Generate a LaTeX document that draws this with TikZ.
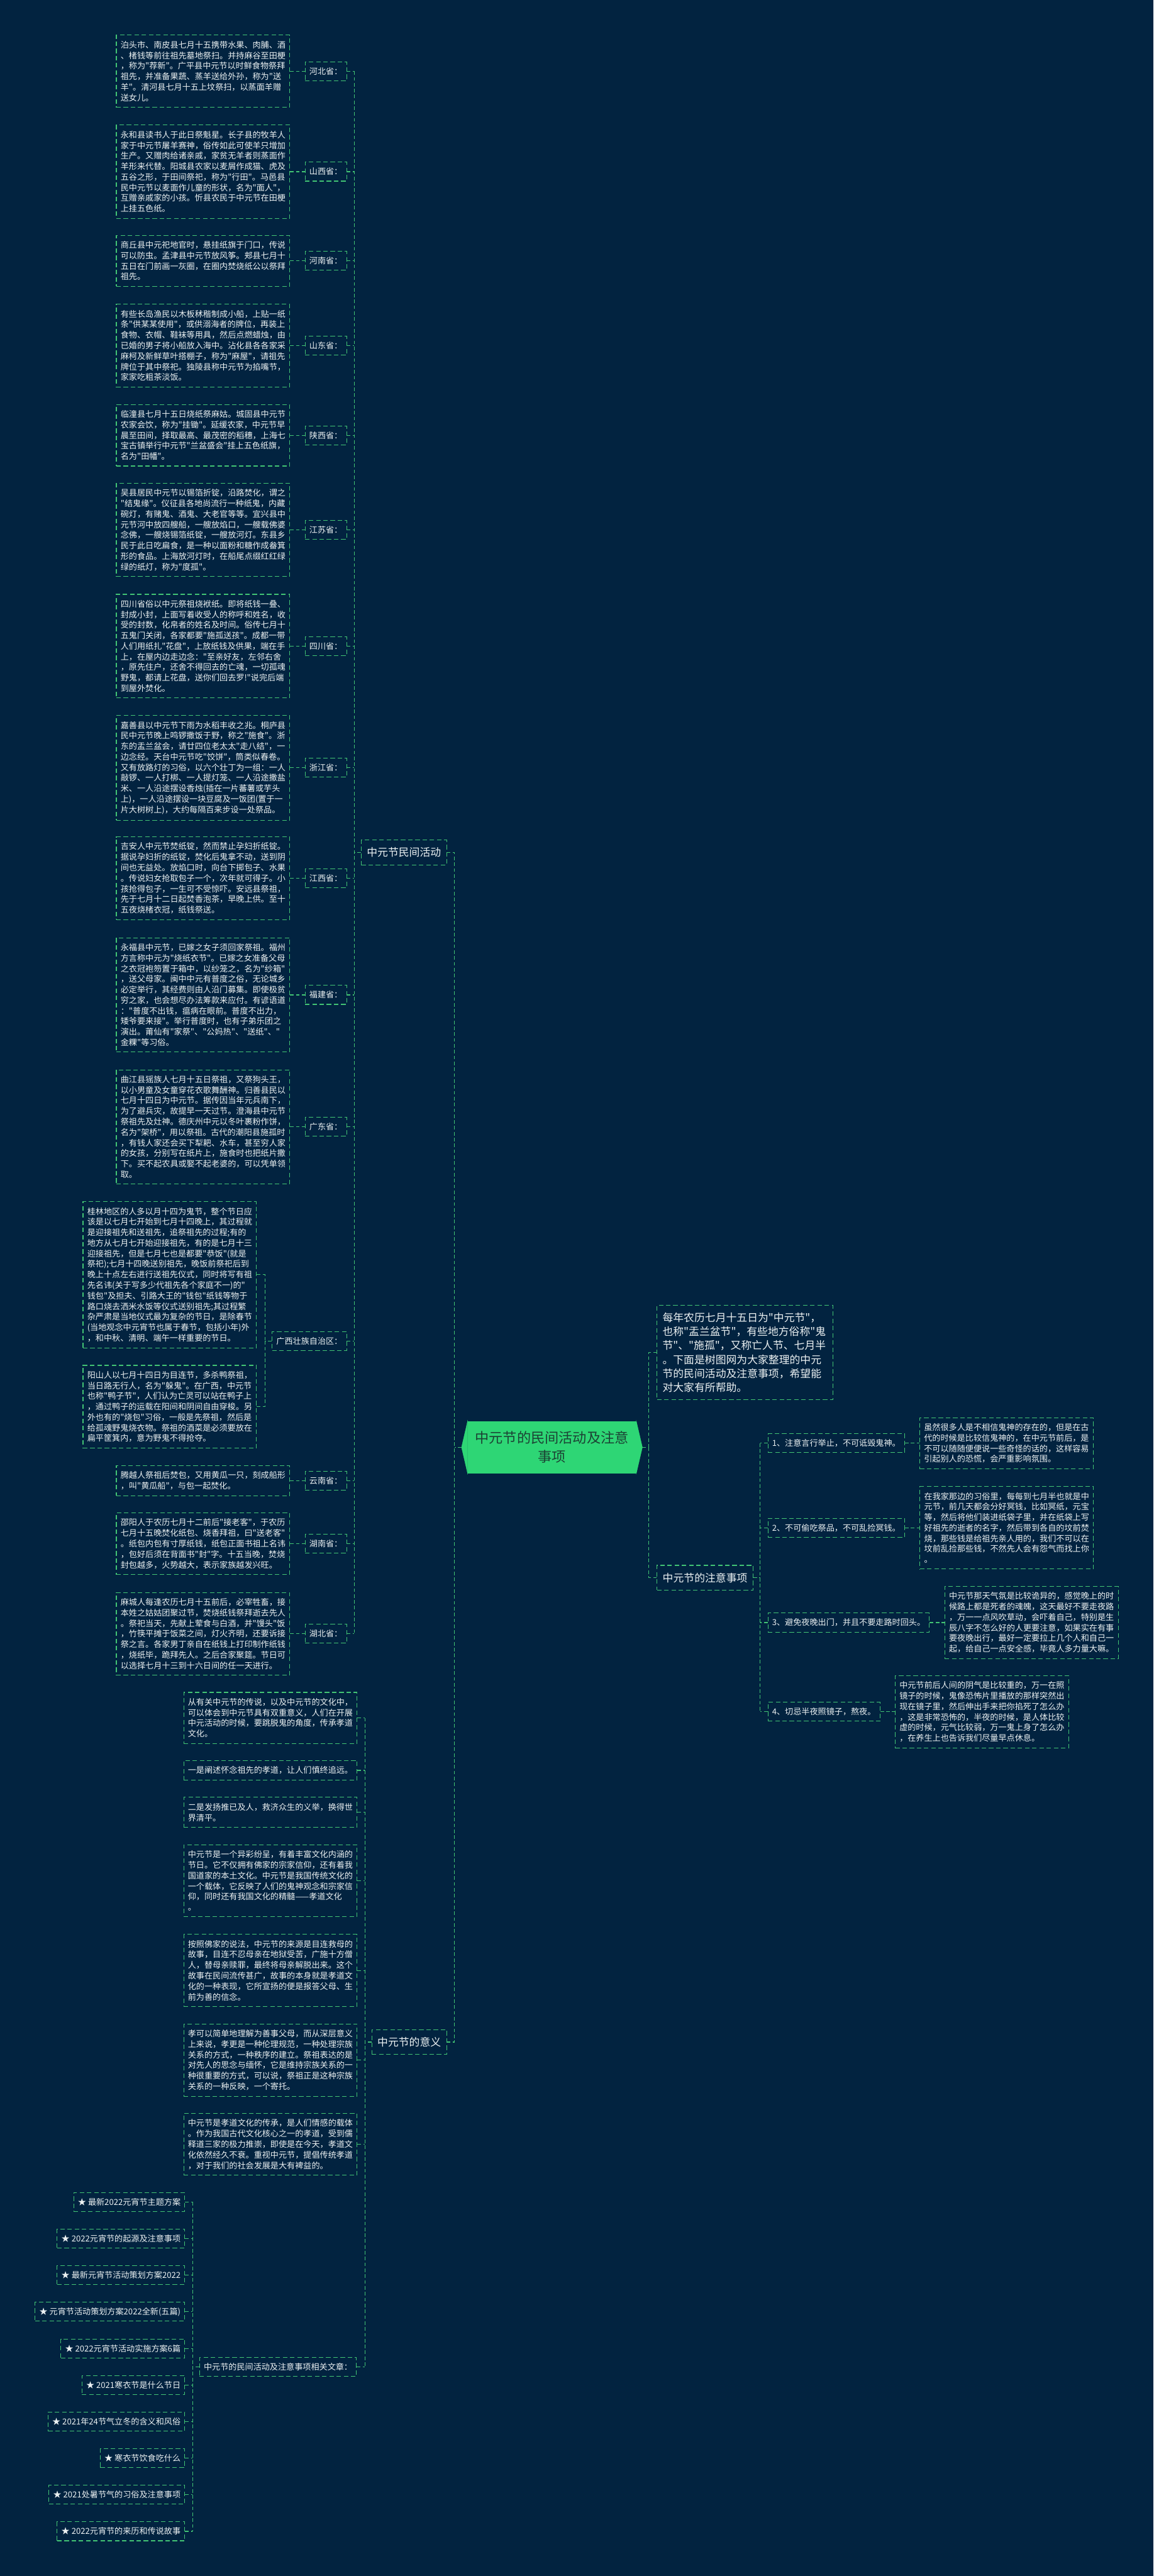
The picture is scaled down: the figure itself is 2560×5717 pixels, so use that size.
\documentclass[tikz,border=0pt]{standalone}
\usepackage{fontspec}
\newfontfamily\cjk{Noto Sans CJK SC}
\definecolor{mmbg}{RGB}{2,35,64}
\definecolor{mmgreen}{RGB}{66,196,116}
\definecolor{mmlime}{RGB}{46,214,117}
\definecolor{mmtext}{RGB}{236,241,242}
\definecolor{mmdark}{RGB}{28,66,52}
\newcommand\mmSmall{\cjk\fontsize{18.3pt}{23.4pt}\selectfont}
\newcommand\mmMid{\cjk\fontsize{23.5pt}{31pt}\selectfont}
\newcommand\mmRoot{\cjk\fontsize{31pt}{42pt}\selectfont}
\usepackage{tikz}
\usetikzlibrary{calc}

\begin{document}
\begin{tikzpicture}[x=1pt, y=-1pt,
  link/.style={draw=mmgreen, line width=1.5pt, dash pattern=on 8pt off 5pt},
  frame/.style={draw=mmgreen, line width=1.5pt, dash pattern=on 10pt off 6pt, text=mmtext},
  detail/.style={frame, font=\mmSmall, align=left, text width=366pt, inner xsep=9.5pt, inner ysep=13pt},
  leaf/.style={frame, font=\mmSmall, inner xsep=9.5pt, inner ysep=0pt, minimum height=42pt},
  topic/.style={frame, font=\mmMid, inner xsep=12.5pt, inner ysep=0pt, minimum height=55pt}]

  %% Canvas
  \fill[mmbg] (0,0) rectangle (2560,5717);
  \useasboundingbox (0,0) rectangle (2560,5717);

  %% Root
  \node[fill=mmlime, text=mmdark, font=\mmRoot, align=center, inner sep=0pt, minimum width=374pt, minimum height=116pt] (root) at (1225,3212) {中元节的民间活动及注意\\事项};
  \filldraw[mmlime, line width=0.6pt] (root.north west) -- ($(root.west)+(-13.5,0)$) coordinate (rootW) -- (root.south west) -- cycle;
  \filldraw[mmlime, line width=0.6pt] (root.north east) -- ($(root.east)+(13.5,0)$) coordinate (rootE) -- (root.south east) -- cycle;

  %% Main branches
  \node[topic, anchor=east] (folk) at (992,1892) {中元节民间活动};
  \node[topic, anchor=east] (meaning) at (992,4532) {中元节的意义};
  \node[frame, font=\mmMid, align=left, text width=366pt, inner xsep=12.25pt, inner ysep=16pt, anchor=west] (intro) at (1457.5,3001.5) {每年农历七月十五日为"中元节"，\\也称"盂兰盆节"，有些地方俗称"鬼\\节"、"施孤"，又称亡人节、七月半\\。下面是树图网为大家整理的中元\\节的民间活动及注意事项，希望能\\对大家有所帮助。};
  \node[topic, anchor=west] (caution) at (1457.5,3501.5) {中元节的注意事项};
  \coordinate (lj) at (1009,3212);
  \coordinate (rj) at (1440,3212);
  \draw[link] (rootW) -- (lj);
  \draw[link] (folk.east) -| (lj);
  \draw[link] (meaning.east) -| (lj);
  \draw[link] (rootE) -- (rj);
  \draw[link] (intro.west) -| (rj);
  \draw[link] (caution.west) -| (rj);

  %% Folk activities -- provinces
  \coordinate (fj) at (786,1892);
  \draw[link] (folk.west) -- (fj);

  %% Hebei
  \node[leaf, anchor=east] (hebei) at (770,158) {河北省：};
  \node[detail, anchor=east] (hebeiD) at (644,158) {泊头市、南皮县七月十五携带水果、肉脯、酒\\、楮钱等前往祖先墓地祭扫。并持麻谷至田梗\\，称为"荐新"。广平县中元节以时鲜食物祭拜\\祖先，并准备果蔬、蒸羊送给外孙，称为"送\\羊"。清河县七月十五上坟祭扫，以蒸面羊赠\\送女儿。};

  %% Shanxi
  \node[leaf, anchor=east] (shanxi) at (770,381) {山西省：};
  \node[detail, anchor=east] (shanxiD) at (644,381) {永和县读书人于此日祭魁星。长子县的牧羊人\\家于中元节屠羊赛神，俗传如此可使羊只增加\\生产。又赠肉给诸亲戚，家贫无羊者则蒸面作\\羊形来代替。阳城县农家以麦屑作成猫、虎及\\五谷之形，于田间祭祀，称为"行田"。马邑县\\民中元节以麦面作儿童的形状，名为"面人"，\\互赠亲戚家的小孩。忻县农民于中元节在田梗\\上挂五色纸。};

  %% Henan
  \node[leaf, anchor=east] (henan) at (770,579) {河南省：};
  \node[detail, anchor=east] (henanD) at (644,579) {商丘县中元祀地官时，悬挂纸旗于门口，传说\\可以防虫。孟津县中元节放风筝。郏县七月十\\五日在门前画一灰圈，在圈内焚烧纸公以祭拜\\祖先。};

  %% Shandong
  \node[leaf, anchor=east] (shandong) at (770,767) {山东省：};
  \node[detail, anchor=east] (shandongD) at (644,767) {有些长岛渔民以木板秫稭制成小船，上贴一纸\\条"供某某使用"，或供溺海者的牌位，再装上\\食物、衣帽、鞋袜等用具，然后点燃蜡烛，由\\已婚的男子将小船放入海中。沾化县各各家采\\麻柯及新鲜草叶搭棚子，称为"麻屋"，请祖先\\牌位于其中祭祀。独陵县称中元节为掐嘴节，\\家家吃粗茶淡饭。};

  %% Shaanxi
  \node[leaf, anchor=east] (shaanxi) at (770,966) {陕西省：};
  \node[detail, anchor=east] (shaanxiD) at (644,966) {临潼县七月十五日烧纸祭麻姑。城固县中元节\\农家会饮，称为"挂锄"。延缓农家，中元节早\\晨至田间，择取最高、最茂密的稻穗，上海七\\宝古镇举行中元节"兰盆盛会"挂上五色纸旗，\\名为"田幡"。};

  %% Jiangsu
  \node[leaf, anchor=east] (jiangsu) at (770,1176) {江苏省：};
  \node[detail, anchor=east] (jiangsuD) at (644,1176) {吴县居民中元节以锡箔折锭，沿路焚化，谓之\\"结鬼缘"。仪征县各地尚流行一种纸鬼，内藏\\碗灯，有赌鬼、酒鬼、大老官等等。宜兴县中\\元节河中放四艘船，一艘放焰口，一艘载佛婆\\念佛，一艘烧锡箔纸锭，一艘放河灯。东县乡\\民于此日吃扁食，是一种以面粉和糖作成畚箕\\形的食品。上海放河灯时，在船尾点缀红红绿\\绿的纸灯，称为"度孤"。};

  %% Sichuan
  \node[leaf, anchor=east] (sichuan) at (770,1434) {四川省：};
  \node[detail, anchor=east] (sichuanD) at (644,1434) {四川省俗以中元祭祖烧袱纸。即将纸钱一叠、\\封成小封，上面写着收受人的称呼和姓名，收\\受的封数，化帛者的姓名及时间。俗传七月十\\五鬼门关闭，各家都要"施孤送孩"。成都一带\\人们用纸扎"花盘"，上放纸钱及供果，端在手\\上，在屋内边走边念："至亲好友，左邻右舍\\，原先住户，还舍不得回去的亡魂，一切孤魂\\野鬼，都请上花盘，送你们回去罗!"说完后端\\到屋外焚化。};

  %% Zhejiang
  \node[leaf, anchor=east] (zhejiang) at (770,1704) {浙江省：};
  \node[detail, anchor=east] (zhejiangD) at (644,1704) {嘉善县以中元节下雨为水稻丰收之兆。桐庐县\\民中元节晚上鸣锣撒饭于野，称之"施食"。浙\\东的盂兰盆会，请廿四位老太太"走八结"，一\\边念经。天台中元节吃"饺饼"，筒类似春卷。\\又有放路灯的习俗，以六个壮丁为一组：一人\\敲锣、一人打梆、一人提灯笼、一人沿途撒盐\\米、一人沿途摆设香烛(插在一片蕃薯或芋头\\上)，一人沿途摆设一块豆腐及一饭团(置于一\\片大树树上)，大约每隔百来步设一处祭品。};

  %% Jiangxi
  \node[leaf, anchor=east] (jiangxi) at (770,1949) {江西省：};
  \node[detail, anchor=east] (jiangxiD) at (644,1949) {吉安人中元节焚纸锭，然而禁止孕妇折纸锭。\\据说孕妇折的纸锭，焚化后鬼拿不动，送到阴\\间也无益处。放焰口时，向台下掷包子、水果\\。传说妇女抢取包子一个，次年就可得子。小\\孩抢得包子，一生可不受惊吓。安远县祭祖，\\先于七月十二日起焚香泡茶，早晚上供。至十\\五夜烧楮衣冠，纸钱祭送。};

  %% Fujian
  \node[leaf, anchor=east] (fujian) at (770,2208) {福建省：};
  \node[detail, anchor=east] (fujianD) at (644,2208) {永福县中元节，已嫁之女子须回家祭祖。福州\\方言称中元为"烧纸衣节"。已嫁之女准备父母\\之衣冠袍笏置于箱中，以纱笼之，名为"纱箱"\\，送父母家。闽中中元有普度之俗，无论城乡\\必定举行，其经费则由人沿门募集。即使极贫\\穷之家，也会想尽办法筹款来应付。有谚语道\\："普度不出钱，瘟病在眼前。普度不出力，\\矮爷要来接"。举行普度时，也有子弟乐团之\\演出。莆仙有"家祭"、"公妈热"、"送纸"、"\\金粿"等习俗。};

  %% Guangdong
  \node[leaf, anchor=east] (guangdong) at (770,2501) {广东省：};
  \node[detail, anchor=east] (guangdongD) at (644,2501) {曲江县猺族人七月十五日祭祖，又祭狗头王，\\以小男童及女童穿花衣歌舞酬神。归善县民以\\七月十四日为中元节。据传因当年元兵南下，\\为了避兵灾，故提早一天过节。澄海县中元节\\祭祖先及灶神。德庆州中元以冬叶裹粉作饼，\\名为"架桥"，用以祭祖。古代的潮阳县施孤时\\，有钱人家还会买下犁耙、水车，甚至穷人家\\的女孩，分别写在纸片上，施食时也把纸片撒\\下。买不起农具或娶不起老婆的，可以凭单领\\取。};

  %% Guangxi
  \node[leaf, anchor=east] (guangxi) at (770,2976) {广西壮族自治区：};
  \coordinate (gxj) at (588,2976);
  \node[detail, anchor=east] (guangxiA) at (570,2829) {桂林地区的人多以月十四为鬼节，整个节日应\\该是以七月七开始到七月十四晚上，其过程就\\是迎接祖先和送祖先，追祭祖先的过程;有的\\地方从七月七开始迎接祖先，有的是七月十三\\迎接祖先，但是七月七也是都要"恭饭"(就是\\祭祀);七月十四晚送别祖先，晚饭前祭祀后到\\晚上十点左右进行送祖先仪式，同时将写有祖\\先名讳(关于写多少代祖先各个家庭不一)的"\\钱包"及担夫、引路大王的"钱包"纸钱等物于\\路口烧去洒米水饭等仪式送别祖先;其过程繁\\杂严肃是当地仪式最为复杂的节日，是除春节\\(当地观念中元宵节也属于春节，包括小年)外\\，和中秋、清明、端午一样重要的节日。};
  \node[detail, anchor=east] (guangxiB) at (570,3122) {阳山人以七月十四日为目连节，多杀鸭祭祖，\\当日路无行人，名为"躲鬼"。在广西，中元节\\也称"鸭子节"，人们认为亡灵可以站在鸭子上\\，通过鸭子的运载在阳间和阴间自由穿梭。另\\外也有的"烧包"习俗，一般是先祭祖，然后是\\给孤魂野鬼烧衣物。祭祖的酒菜是必须要放在\\扁平筐箕内，意为野鬼不得抢夺。};
  \draw[link] (guangxi.west) -- (gxj);
  \draw[link] (guangxiA.east) -| (gxj);
  \draw[link] (guangxiB.east) -| (gxj);

  %% Yunnan
  \node[leaf, anchor=east] (yunnan) at (770,3286) {云南省：};
  \node[detail, anchor=east] (yunnanD) at (644,3286) {腾越人祭祖后焚包，又用黄瓜一只，刻成船形\\，叫"黄瓜船"，与包一起焚化。};

  %% Hunan
  \node[leaf, anchor=east] (hunan) at (770,3426) {湖南省：};
  \node[detail, anchor=east] (hunanD) at (644,3426) {邵阳人于农历七月十二前后"接老客"，于农历\\七月十五晚焚化纸包、烧香拜祖，曰"送老客"\\。纸包内包有寸厚纸钱，纸包正面书祖上名讳\\，包好后须在背面书"封"字。十五当晚，焚烧\\封包越多，火势越大，表示家族越发兴旺。};

  %% Hubei
  \node[leaf, anchor=east] (hubei) at (770,3626) {湖北省：};
  \node[detail, anchor=east] (hubeiD) at (644,3626) {麻城人每逢农历七月十五前后，必宰牲畜，接\\本姓之姑姑团聚过节，焚烧纸钱祭拜逝去先人\\。祭祀当天，先献上荤食与白酒，并"馒头"饭\\，竹筷平摊于饭菜之间，灯火齐明，还要诉接\\祭之言。各家男丁亲自在纸钱上打印制作纸钱\\，烧纸毕，跪拜先人。之后合家聚筵。节日可\\以选择七月十三到十六日间的任一天进行。};

  %% Province connectors
  \foreach \p in {hebei,shanxi,henan,shandong,shaanxi,jiangsu,sichuan,zhejiang,jiangxi,fujian,guangdong,yunnan,hunan,hubei}
    \draw[link] (\p D.east) -- (\p.west);
  \foreach \p in {hebei,shanxi,henan,shandong,shaanxi,jiangsu,sichuan,zhejiang,jiangxi,fujian,guangdong,guangxi,yunnan,hunan,hubei}
    \draw[link] (\p.east) -- (\p.east -| fj);
  \draw[link] (hebei.east -| fj) -- (hubei.east -| fj);

  %% Meaning
  \coordinate (mj) at (810,4532);
  \draw[link] (meaning.west) -- (mj);
  \node[detail, anchor=east] (m1) at (793.4,3812.5) {从有关中元节的传说，以及中元节的文化中，\\可以体会到中元节具有双重意义，人们在开展\\中元活动的时候，要跳脱鬼的角度，传承孝道\\文化。};
  \node[detail, anchor=east] (m2) at (793.4,3929) {一是阐述怀念祖先的孝道，让人们慎终追远。};
  \node[detail, anchor=east] (m3) at (793.4,4022) {二是发扬推已及人，救济众生的义举，换得世\\界清平。};
  \node[detail, anchor=east] (m4) at (793.4,4174) {中元节是一个异彩纷呈，有着丰富文化内涵的\\节日。它不仅拥有佛家的宗家信仰，还有着我\\国道家的本土文化。中元节是我国传统文化的\\一个载体，它反映了人们的鬼神观念和宗家信\\仰，同时还有我国文化的精髓——孝道文化\\。};
  \node[detail, anchor=east] (m5) at (793.4,4373) {按照佛家的说法，中元节的来源是目连救母的\\故事，目连不忍母亲在地狱受苦，广施十方僧\\人，替母亲赎罪，最终将母亲解脱出来。这个\\故事在民间流传甚广，故事的本身就是孝道文\\化的一种表现，它所宣扬的便是报答父母、生\\前为善的信念。};
  \node[detail, anchor=east] (m6) at (793.4,4572) {孝可以简单地理解为善事父母，而从深层意义\\上来说，孝更是一种伦理规范，一种处理宗族\\关系的方式，一种秩序的建立。祭祖表达的是\\对先人的思念与缅怀，它是维持宗族关系的一\\种很重要的方式，可以说，祭祖正是这种宗族\\关系的一种反映，一个寄托。};
  \node[detail, anchor=east] (m7) at (793.4,4759) {中元节是孝道文化的传承，是人们情感的载体\\。作为我国古代文化核心之一的孝道，受到儒\\释道三家的极力推崇，即使是在今天，孝道文\\化依然经久不衰。重视中元节，提倡传统孝道\\，对于我们的社会发展是大有裨益的。};
  \node[leaf, anchor=east] (related) at (792,5253) {中元节的民间活动及注意事项相关文章：};
  \foreach \m in {m1,m2,m3,m4,m5,m6,m7,related}
    \draw[link] (\m.east) -- (\m.east -| mj);
  \draw[link] (m1.east -| mj) -- (related.east -| mj);

  %% Related articles
  \coordinate (rlj) at (427.5,5253);
  \draw[link] (related.west) -- (rlj);
  \foreach \t [count=\i] in {最新2022元宵节主题方案,2022元宵节的起源及注意事项,最新元宵节活动策划方案2022,元宵节活动策划方案2022全新(五篇),2022元宵节活动实施方案6篇,2021寒衣节是什么节日,2021年24节气立冬的含义和风俗,寒衣节饮食吃什么,2021处暑节气的习俗及注意事项,2022元宵节的来历和传说故事}
    \node[leaf, anchor=east] (s\i) at (411,{4805.8+81.2*\i}) {★ \t};
  \foreach \i in {1,...,10}
    \draw[link] (s\i.east) -- (s\i.east -| rlj);
  \draw[link] (s1.east -| rlj) -- (s10.east -| rlj);

  %% Cautions
  \coordinate (cj) at (1687,3501.5);
  \draw[link] (caution.east) -- (cj);
  \node[leaf, anchor=west] (a1) at (1703.5,3203) {1、注意言行举止，不可诋毁鬼神。};
  \node[detail, anchor=west] (a1D) at (2040.6,3203) {虽然很多人是不相信鬼神的存在的，但是在古\\代的时候是比较信鬼神的，在中元节前后，是\\不可以随随便便说一些奇怪的话的，这样容易\\引起别人的恐慌，会严重影响氛围。};
  \node[leaf, anchor=west] (a2) at (1703.5,3390.5) {2、不可偷吃祭品，不可乱捡冥钱。};
  \node[detail, anchor=west] (a2D) at (2041,3390.5) {在我家那边的习俗里，每每到七月半也就是中\\元节，前几天都会分好冥钱，比如冥纸，元宝\\等，然后将他们装进纸袋子里，并在纸袋上写\\好祖先的逝者的名字，然后带到各自的坟前焚\\烧，那些钱是给祖先亲人用的，我们不可以在\\坟前乱捡那些钱，不然先人会有怨气而找上你\\。};
  \node[leaf, anchor=west] (a3) at (1703.5,3601) {3、避免夜晚出门，并且不要走路时回头。};
  \node[detail, anchor=west] (a3D) at (2096,3601) {中元节那天气氛是比较诡异的，感觉晚上的时\\候路上都是死者的魂魄，这天最好不要走夜路\\，万一一点风吹草动，会吓着自己，特别是生\\辰八字不怎么好的人更要注意，如果实在有事\\要夜晚出行，最好一定要拉上几个人和自己一\\起，给自己一点安全感，毕竟人多力量大嘛。};
  \node[leaf, anchor=west] (a4) at (1703.5,3799) {4、切忌半夜照镜子，熬夜。};
  \node[detail, anchor=west] (a4D) at (1986,3799) {中元节前后人间的阴气是比较重的，万一在照\\镜子的时候，鬼像恐怖片里播放的那样突然出\\现在镜子里，然后伸出手来把你掐死了怎么办\\，这是非常恐怖的，半夜的时候，是人体比较\\虚的时候，元气比较弱，万一鬼上身了怎么办\\，在养生上也告诉我们尽量早点休息。};
  \foreach \a in {a1,a2,a3,a4} {
    \draw[link] (\a.east) -- (\a D.west);
    \draw[link] (\a.west) -- (\a.west -| cj);
  }
  \draw[link] (a1.west -| cj) -- (a4.west -| cj);
\end{tikzpicture}
\end{document}
